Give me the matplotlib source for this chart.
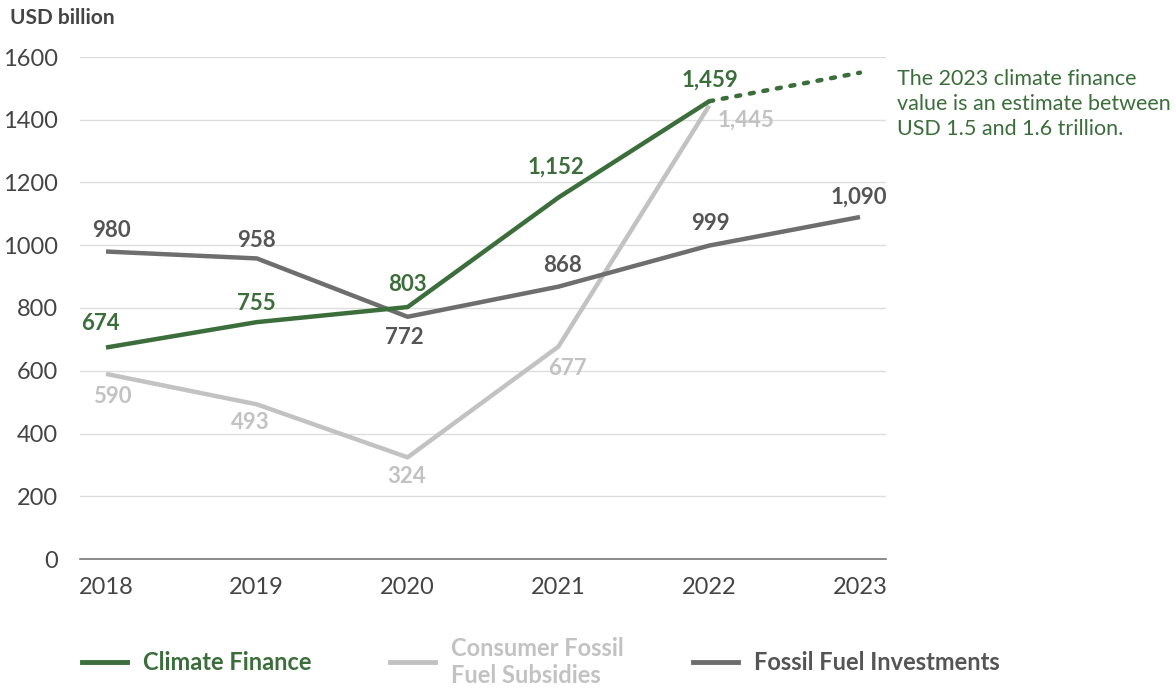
import matplotlib
matplotlib.use("Agg")
import matplotlib.pyplot as plt
from matplotlib.lines import Line2D

plt.rcParams["font.family"] = ["Lato", "DejaVu Sans"]

years = [2018, 2019, 2020, 2021, 2022, 2023]
climate = [674, 755, 803, 1152, 1459]
climate_2023_est = 1550
subsidies = [590, 493, 324, 677, 1445]
investments = [980, 958, 772, 868, 999, 1090]

GREEN = "#3b6e3a"
LIGHT = "#c2c2c2"
DARK = "#6e6e6e"
TEXT = "#444444"

# label offsets in pixels (dx, dy) for each value
climate_off = [(-6, 24), (0, 19), (0, 23), (-2, 30), (1, 21)]
subsidies_off = [(6, -23), (-7, -18), (-1, -19), (9, -22), (37, -15)]
invest_off = [(5, 21), (0, 18), (-3, -21), (4, 21), (1, 22), (-1, 20)]

fig = plt.figure(figsize=(11.76, 6.88), dpi=100)
ax = fig.add_axes([80 / 1176, 1 - 559 / 688, 806 / 1176, 502 / 688])

ax.set_ylim(0, 1600)
ax.set_xlim(2018 - 26 / 150.8, 2023 + 26 / 150.8)
ax.set_yticks(range(0, 1601, 200))
ax.set_xticks(years)
ax.grid(axis="y", color="#dddddd", lw=1)
ax.set_axisbelow(True)
for s in ["top", "right", "left"]:
    ax.spines[s].set_visible(False)
ax.spines["bottom"].set_color("#777777")
ax.spines["bottom"].set_linewidth(1.2)
ax.tick_params(length=0, labelsize=17, colors=TEXT)
ax.tick_params(axis="y", pad=16)
ax.tick_params(axis="x", pad=13)

ax.plot(years[:5], subsidies, color=LIGHT, lw=3.2, solid_capstyle="butt")
ax.plot(years, investments, color=DARK, lw=3.2, solid_capstyle="butt")
ax.plot(years[:5], climate, color=GREEN, lw=3.2, solid_capstyle="butt")
ax.plot(years[4:], [climate[-1], climate_2023_est], color=GREEN, lw=3.2,
        ls=(0, (0.9, 2.2)), dash_capstyle="round")


def label(xs, vals, offs, color):
    for x, v, (dx, dy) in zip(xs, vals, offs):
        ax.annotate(f"{v:,}", (x, v), xytext=(dx, dy), textcoords="offset pixels",
                    ha="center", va="center", fontsize=16, fontweight="bold",
                    color=color)


label(years, climate, climate_off, GREEN)
label(years, subsidies, subsidies_off, LIGHT)
label(years, investments, invest_off, "#555555")

fig.text(897 / 1176, 1 - 104 / 688,
         "The 2023 climate finance\nvalue is an estimate between\nUSD 1.5 and 1.6 trillion.",
         color=GREEN, fontsize=15.5, va="center", ha="left", linespacing=1.3)

fig.text(10 / 1176, 1 - 18 / 688, "USD billion", fontsize=15, fontweight="bold",
         color=TEXT, va="center", ha="left")

# legend along the bottom
legend_items = [
    (82, GREEN, "Climate Finance"),
    (390, LIGHT, "Consumer Fossil\nFuel Subsidies"),
    (693, DARK, "Fossil Fuel Investments"),
]
for x0, c, txt in legend_items:
    fig.add_artist(Line2D([x0 / 1176, (x0 + 45) / 1176], [1 - 662 / 688] * 2,
                          color=c, lw=3.5, transform=fig.transFigure))
    tc = "#555555" if c == DARK else c
    fig.text((x0 + 61) / 1176, 1 - 662 / 688, txt, color=tc, fontsize=17,
             fontweight="bold", va="center", ha="left", linespacing=1.2)

fig.savefig("out.png", dpi=100)
